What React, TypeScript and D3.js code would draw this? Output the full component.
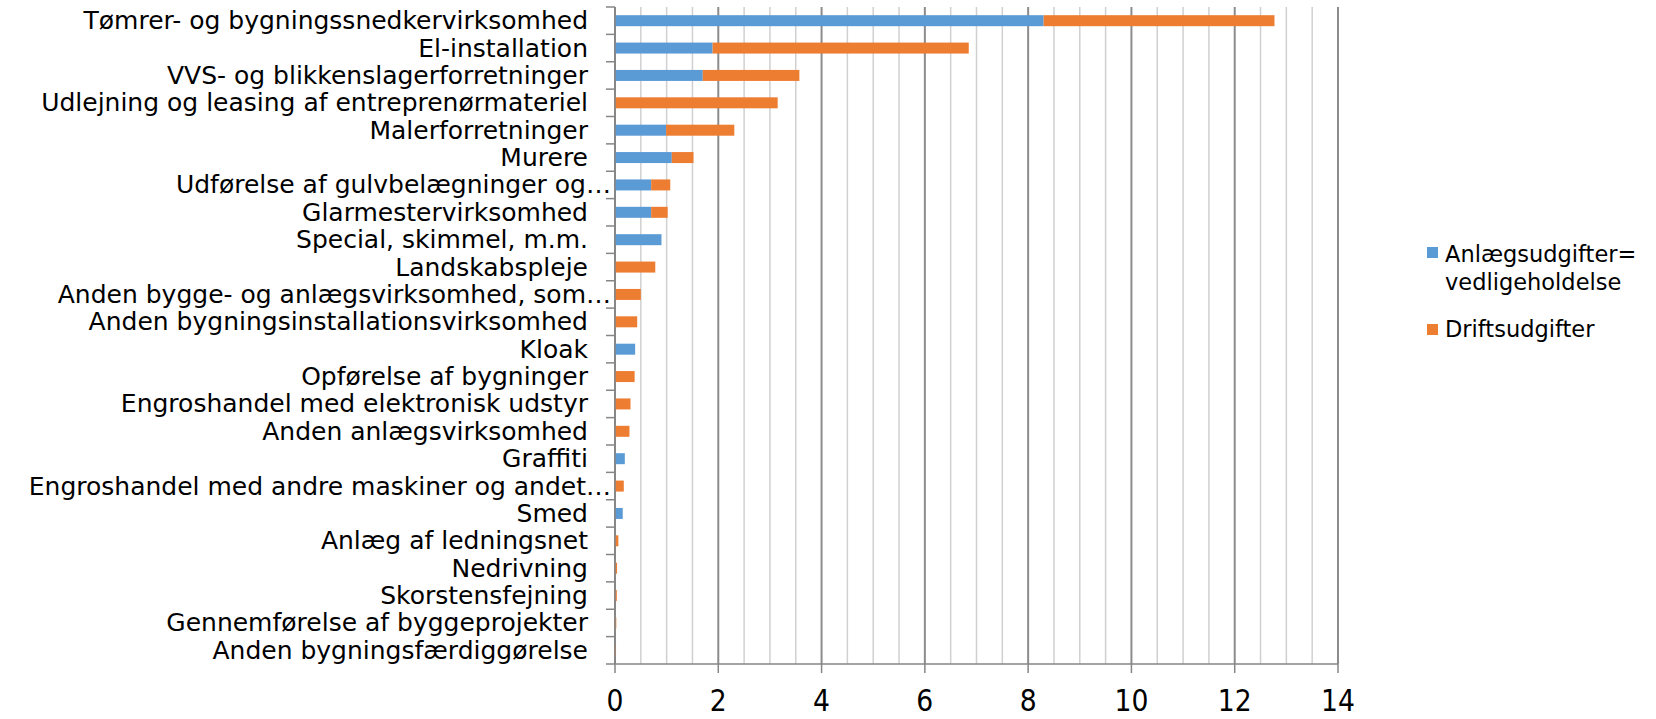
import React from "react";
import * as d3 from "d3";

const categories = [
  "Tømrer- og bygningssnedkervirksomhed",
  "El-installation",
  "VVS- og blikkenslagerforretninger",
  "Udlejning og leasing af entreprenørmateriel",
  "Malerforretninger",
  "Murere",
  "Udførelse af gulvbelægninger og…",
  "Glarmestervirksomhed",
  "Special, skimmel, m.m.",
  "Landskabspleje",
  "Anden bygge- og anlægsvirksomhed, som…",
  "Anden bygningsinstallationsvirksomhed",
  "Kloak",
  "Opførelse af bygninger",
  "Engroshandel med elektronisk udstyr",
  "Anden anlægsvirksomhed",
  "Graffiti",
  "Engroshandel med andre maskiner og andet…",
  "Smed",
  "Anlæg af ledningsnet",
  "Nedrivning",
  "Skorstensfejning",
  "Gennemførelse af byggeprojekter",
  "Anden bygningsfærdiggørelse",
];

const anlaeg = [8.3, 1.89, 1.7, 0, 0.99, 1.1, 0.7, 0.7, 0.9, 0, 0, 0, 0.39, 0, 0, 0, 0.19, 0, 0.15, 0, 0, 0, 0, 0];
const drift = [4.47, 4.96, 1.87, 3.15, 1.32, 0.42, 0.37, 0.32, 0, 0.78, 0.5, 0.43, 0, 0.38, 0.3, 0.28, 0, 0.17, 0, 0.065, 0.04, 0.035, 0.025, 0.02];

const seriesNames = ["Anlægsudgifter=", "vedligeholdelse", "Driftsudgifter"];
const xTicks = [0, 2, 4, 6, 8, 10, 12, 14];

const BLUE = "#5B9BD5";
const ORANGE = "#ED7D31";
const FONT = "'DejaVu Sans', sans-serif";

export default function App() {
  const W = 1656, H = 719;
  const left = 615, right = 1338, top = 7, bottom = 664;
  const x = d3.scaleLinear().domain([0, 14]).range([left, right]);
  const y = d3.scaleBand<string>().domain(categories).range([top, bottom]).paddingInner(0).paddingOuter(0);
  const bw = y.bandwidth();
  const barH = 11;
  const minor = d3.range(0, 14.01, 0.5).filter((v) => v % 2 !== 0);
  const boundaries = d3.range(0, categories.length + 1).map((i) => top + i * bw);

  return (
    <svg width={W} height={H} style={{ position: "absolute", left: 0, top: 0, background: "#fff" }} fontFamily={FONT}>
      {/* minor grid */}
      {minor.map((v) => (
        <line key={"m" + v} x1={x(v)} x2={x(v)} y1={top} y2={bottom} stroke="#D0D0D0" strokeWidth={1.5} />
      ))}
      {/* major grid */}
      {xTicks.map((v) => (
        <line key={"M" + v} x1={x(v)} x2={x(v)} y1={top} y2={bottom} stroke="#8C8C8C" strokeWidth={2} />
      ))}
      {/* bars */}
      {categories.map((c, i) => {
        const cy = (y(c) as number) + bw / 2 - barH / 2;
        return (
          <g key={c}>
            {anlaeg[i] > 0 && (
              <rect x={x(0)} y={cy} width={x(anlaeg[i]) - x(0)} height={barH} fill={BLUE} />
            )}
            {drift[i] > 0 && (
              <rect x={x(anlaeg[i])} y={cy} width={x(anlaeg[i] + drift[i]) - x(anlaeg[i])} height={barH} fill={ORANGE} />
            )}
          </g>
        );
      })}
      {/* y axis */}
      <line x1={left} x2={left} y1={top} y2={bottom} stroke="#868686" strokeWidth={1.5} />
      {boundaries.map((b, i) => (
        <line key={"yt" + i} x1={left - 9} x2={left} y1={b} y2={b} stroke="#868686" strokeWidth={1.5} />
      ))}
      {/* x axis */}
      <line x1={left} x2={right} y1={bottom} y2={bottom} stroke="#868686" strokeWidth={1.5} />
      {xTicks.map((v) => (
        <line key={"xt" + v} x1={x(v)} x2={x(v)} y1={bottom} y2={bottom + 9} stroke="#868686" strokeWidth={1.5} />
      ))}
      {xTicks.map((v) => (
        <text
          key={"xl" + v}
          transform={`translate(${x(v)},${bottom + 47}) scale(0.86,1)`}
          textAnchor="middle"
          fontSize={31}
          fill="#000"
        >
          {v}
        </text>
      ))}
      {/* category labels */}
      {categories.map((c) => {
        const cy = (y(c) as number) + bw / 2 + 8.5;
        const ell = c.endsWith("…");
        const main = ell ? c.slice(0, -1) : c;
        return (
          <g key={"l" + c}>
            <text x={ell ? 586 : 588} y={cy} textAnchor="end" fontSize={25} fill="#000">
              {main}
            </text>
            {ell && (
              <text x={586} y={cy} textAnchor="start" fontSize={25} fill="#000">
                …
              </text>
            )}
          </g>
        );
      })}
      {/* legend */}
      <rect x={1427} y={247} width={11} height={11} fill={BLUE} />
      <text x={1445} y={262} fontSize={22.5} fill="#000">{seriesNames[0]}</text>
      <text x={1445} y={290} fontSize={22.5} fill="#000">{seriesNames[1]}</text>
      <rect x={1427} y={324} width={11} height={11} fill={ORANGE} />
      <text x={1445} y={337} fontSize={22.5} fill="#000">{seriesNames[2]}</text>
    </svg>
  );
}
